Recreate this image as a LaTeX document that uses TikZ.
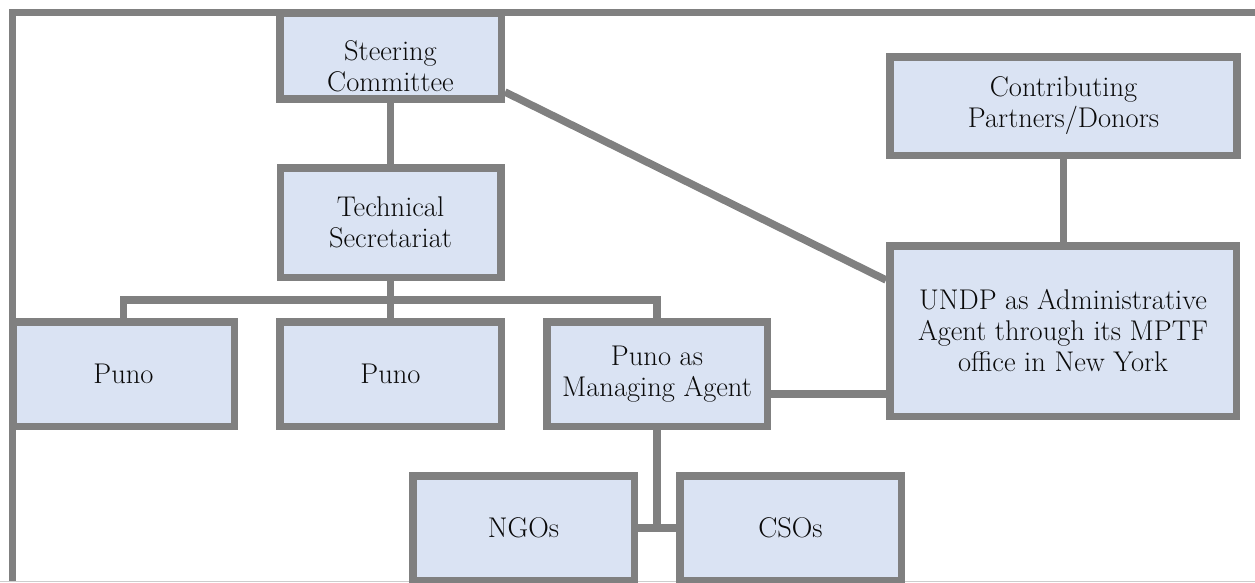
\documentclass[tikz,border=0pt]{standalone}
\usepackage{fontspec}
\usetikzlibrary{backgrounds}
\definecolor{edge}{RGB}{128,128,128}
\definecolor{boxfill}{RGB}{218,227,243}
\definecolor{ink}{RGB}{10,10,10}
\definecolor{pageedge}{RGB}{205,205,205}
\begin{document}
\begin{tikzpicture}[x=1pt,y=-1pt,
  box/.style={draw=edge, fill=boxfill, line width=7.5pt, inner sep=0pt,
    text=ink, align=center, font=\fontsize{28.5}{31}\selectfont},
  lbl/.style={text=ink, align=center, font=\fontsize{28.5}{31}\selectfont},
  conn/.style={draw=edge, line width=7.5pt}]
\useasboundingbox (0,0) rectangle (1255,582);
% helper coordinates
\coordinate (busy) at (0,300);
\coordinate (y394) at (0,394);
\coordinate (y92) at (0,92);
\coordinate (y280) at (0,280);
% boxes
\node[box, minimum width=221.5pt, minimum height=86pt] (SC) at (390.5,56) {};
\node[lbl] (SCt) at (390.5,66) {Steering\\Committee};
\node[box, minimum width=220.5pt, minimum height=109.5pt] (TS) at (390.5,222.5) {Technical\\Secretariat};
\node[box, minimum width=221.5pt, minimum height=104.5pt] (P1) at (123.5,374) {Puno};
\node[box, minimum width=221.5pt, minimum height=104.5pt] (P2) at (390.5,374) {Puno};
\node[box, minimum width=220.5pt, minimum height=104.5pt] (MA) at (657,374) {Puno as\\Managing Agent};
\node[box, minimum width=346.5pt, minimum height=170.5pt] (UN) at (1063,331) {UNDP as Administrative\\Agent through its MPTF\\office in New York};
\node[box, minimum width=347pt, minimum height=98.5pt] (CP) at (1063.5,106) {Contributing\\Partners/Donors};
\node[box, minimum width=221.5pt, minimum height=104.5pt] (NG) at (523.5,528) {NGOs};
\node[box, minimum width=221.5pt, minimum height=104.5pt] (CS) at (790.5,528) {CSOs};
\begin{scope}[on background layer]
  % outer frame
  \draw[draw=edge, line width=7pt] (12.5,582) -- (12.5,12) -- (1255,12);
  \draw[draw=pageedge, line width=1pt] (0,581.5) -- (1255,581.5);
  % connectors
  \draw[conn] (SC.south) -- (SC.south |- TS.north);
  \draw[conn] (TS.south) -- (TS.south |- busy);
  \draw[conn] (P1.north) -- (P1.north |- busy) -- (MA.north |- busy) -- (MA.north);
  \draw[conn] (P2.north) -- (P2.north |- busy);
  \draw[conn] (MA.south) -- (MA.south |- NG.east);
  \draw[conn] (NG.east) -- (CS.west);
  \draw[conn] (MA.east |- y394) -- (UN.west |- y394);
  \draw[conn] (CP.south) -- (CP.south |- UN.north);
  \draw[conn] (SC.east |- y92) -- (UN.west |- y280);
\end{scope}
\end{tikzpicture}
\end{document}
